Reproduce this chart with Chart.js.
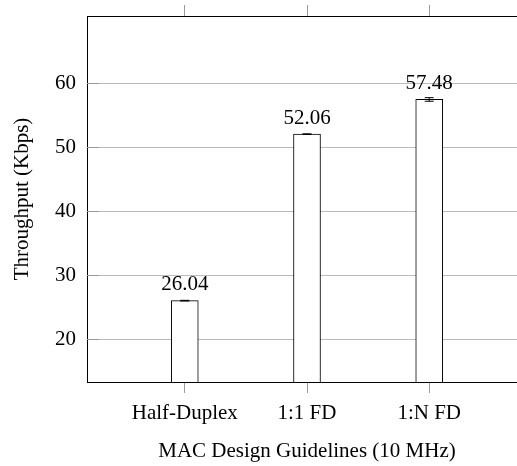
<!DOCTYPE html>
<html>
<head>
<meta charset="utf-8">
<script src="https://cdn.jsdelivr.net/npm/chart.js@4.4.1/dist/chart.umd.min.js"></script>
<style>
html, body { margin: 0; padding: 0; background: #fff; overflow: hidden; }
</style>
</head>
<body>
<!-- the original figure is a bit wider than the window; its right edge is cut off -->
<canvas id="chart" width="527" height="466"></canvas>
<script>
// Data
const categories = ['Half-Duplex', '1:1 FD', '1:N FD'];
const throughput = [26.04, 52.06, 57.48];
const errors = [0.05, 0.05, 0.28];
const yTicks = [20, 30, 40, 50, 60];

const serif = { family: 'Liberation Serif', size: 21 };
const gridGray = '#bcbcbc';
const tickGray = '#9a9a9a';

// Short tick marks inside the plot on the y axis
const innerTicks = {
    id: 'innerTicks',
    beforeDatasetsDraw(chart) {
        const { ctx, chartArea, scales } = chart;
        ctx.save();
        ctx.strokeStyle = tickGray;
        ctx.lineWidth = 1;
        yTicks.forEach(t => {
            const y = Math.round(scales.y.getPixelForValue(t)) + 0.5;
            ctx.beginPath();
            ctx.moveTo(chartArea.left, y);
            ctx.lineTo(chartArea.left + 12, y);
            ctx.stroke();
        });
        ctx.restore();
    }
};

// Error bars and value labels above the bars
const barExtras = {
    id: 'barExtras',
    afterDatasetsDraw(chart) {
        const { ctx, scales } = chart;
        ctx.save();
        ctx.strokeStyle = '#000';
        ctx.lineWidth = 1;
        throughput.forEach((v, i) => {
            const x = scales.x.getPixelForValue(i);
            const yHi = scales.y.getPixelForValue(v + errors[i]);
            const yLo = scales.y.getPixelForValue(v - errors[i]);
            ctx.beginPath();
            ctx.moveTo(x, yHi);
            ctx.lineTo(x, yLo);
            ctx.moveTo(x - 4.5, yHi);
            ctx.lineTo(x + 4.5, yHi);
            ctx.moveTo(x - 4.5, yLo);
            ctx.lineTo(x + 4.5, yLo);
            ctx.stroke();

            ctx.fillStyle = '#000';
            ctx.font = serif.size + 'px "' + serif.family + '"';
            ctx.textAlign = 'center';
            ctx.textBaseline = 'alphabetic';
            ctx.fillText(v.toFixed(2), x, scales.y.getPixelForValue(v) - 10.5);
        });
        ctx.restore();
    }
};

const noPad = s => { s.paddingTop = 0; s.paddingBottom = 0; s.paddingLeft = 0; s.paddingRight = 0; };

const ctx = document.getElementById('chart').getContext('2d');
const chart = new Chart(ctx, {
    type: 'bar',
    data: {
        datasets: [{
            data: throughput.map((v, i) => ({ x: i, y: v })),
            backgroundColor: '#fff',
            borderColor: '#000',
            borderWidth: 1,
            barThickness: 27,
            xAxisID: 'x',
            yAxisID: 'y'
        }]
    },
    options: {
        responsive: false,
        animation: false,
        layout: { padding: 0 },
        plugins: {
            legend: { display: false },
            tooltip: { enabled: false }
        },
        scales: {
            x: {
                type: 'linear',
                position: 'bottom',
                offset: false,
                min: -0.8,
                max: 2.8,
                afterBuildTicks: s => { s.ticks = categories.map((c, i) => ({ value: i })); },
                afterFit: s => { s.height = 84; noPad(s); },
                ticks: {
                    callback: v => categories[v],
                    font: serif,
                    color: '#000',
                    padding: 8,
                    maxRotation: 0,
                    autoSkip: false
                },
                grid: { offset: false, drawOnChartArea: false, tickLength: 11, color: tickGray },
                border: { color: '#000', width: 1 },
                title: {
                    display: true,
                    text: 'MAC Design Guidelines (10 MHz)',
                    font: serif,
                    color: '#000',
                    padding: { top: 0, bottom: 2 }
                }
            },
            x2: {
                type: 'linear',
                position: 'top',
                offset: false,
                min: -0.8,
                max: 2.8,
                afterBuildTicks: s => { s.ticks = categories.map((c, i) => ({ value: i })); },
                afterFit: s => { s.height = 16; noPad(s); },
                ticks: { display: false },
                grid: { offset: false, drawOnChartArea: false, tickLength: 11, color: tickGray },
                border: { color: '#000', width: 1 }
            },
            y: {
                min: 13.33,
                max: 70.52,
                afterBuildTicks: s => { s.ticks = yTicks.map(t => ({ value: t })); },
                afterFit: s => { s.width = 87; noPad(s); },
                ticks: { font: serif, color: '#000', padding: 11 },
                grid: { color: gridGray, drawTicks: false },
                border: { color: '#000', width: 1 },
                title: {
                    display: true,
                    text: 'Throughput (Kbps)',
                    font: serif,
                    color: '#000',
                    padding: { top: 10, bottom: 0 }
                }
            }
        }
    },
    plugins: [innerTicks, barExtras]
});
</script>
</body>
</html>
